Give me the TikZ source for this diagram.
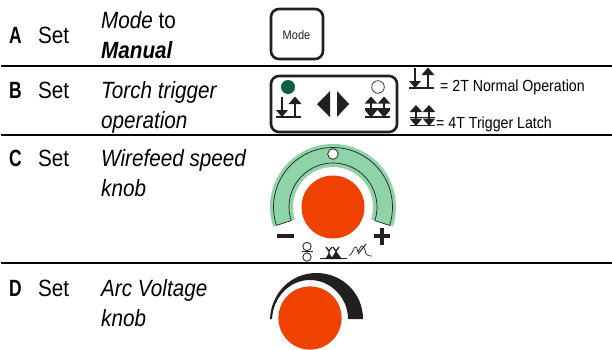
\documentclass[tikz,border=0pt]{standalone}
\usepackage{fontspec}
\setmainfont[FakeStretch=0.88]{Liberation Sans}
\newfontfamily\narrowbold[FakeStretch=0.74,BoldFont={Liberation Sans Bold}]{Liberation Sans}
\definecolor{ink}{HTML}{231F20}
\definecolor{knob}{HTML}{EF4100}
\definecolor{mint}{HTML}{8FD3A8}
\definecolor{led}{HTML}{0B5F3F}
\tikzset{
  x=1pt,y=-1pt,
  lab/.style={anchor=base west,inner sep=0pt,font=\fontsize{23.5}{23.5}\selectfont,text=black},
  letter/.style={lab,font=\fontsize{23.5}{23.5}\selectfont\narrowbold\bfseries},
  small/.style={anchor=base west,inner sep=0pt,font=\fontsize{16.1}{16.1}\selectfont,text=black},
  rule/.style={draw=black,line width=2pt},
  btn/.style={draw=ink,line width=2.6pt,rounded corners=8pt,fill=white},
}
\newcommand{\twoT}[3]{% x,y of baseline left, scale
  \begin{scope}[shift={(#1,#2)},scale=#3]
    \draw[ink,line width=1.2pt] (0,0) -- (25,0);
    \draw[ink,line width=1.7pt] (6,-20) -- (6,-5);
    \fill[ink] (0,-7) -- (12,-7) -- (6,0) -- cycle;
    \draw[ink,line width=1.7pt] (19,-14) -- (19,0);
    \fill[ink] (12.5,-13) -- (25.5,-13) -- (19,-20.5) -- cycle;
  \end{scope}}
\newcommand{\fourT}[3]{%
  \begin{scope}[shift={(#1,#2)},scale=#3]
    \draw[ink,line width=1.2pt] (0,0) -- (25,0);
    \draw[ink,line width=1.2pt] (0,-8) -- (25,-8);
    \foreach \a in {6,19}{
      \draw[ink,line width=1.7pt] (\a,-16) -- (\a,-4);
      \fill[ink] (\a-6.3,-7) -- (\a+6.3,-7) -- (\a,0.5) -- cycle;
      \fill[ink] (\a-6.3,-13.5) -- (\a+6.3,-13.5) -- (\a,-20.5) -- cycle;
    }
  \end{scope}}
\begin{document}
\begin{tikzpicture}
\useasboundingbox (0,0) rectangle (612,349);
\fill[white] (0,0) rectangle (612,349);
% rules
\draw[rule] (1,66) -- (612,66);
\draw[rule] (1,135) -- (612,135);
\draw[rule] (1,262.5) -- (612,262.5);
% left column
\node[letter] (la) at (9,43) {A};
\node[lab] (sa) at (38,43) {Set};
\node[lab] (ta1) at (101,28) {\itshape Mode\/ \upshape to};
\node[lab] (ta2) at (101,58) {\bfseries\itshape Manual};
\node[letter] (lb) at (9,98) {B};
\node[lab] (sb) at (38,98) {Set};
\node[lab] (tb1) at (101,98) {\itshape Torch trigger};
\node[lab] (tb2) at (101,128) {\itshape operation};
\node[letter] (lc) at (9,166) {C};
\node[lab] (sc) at (38,166) {Set};
\node[lab] (tc1) at (101,166) {\itshape Wirefeed speed};
\node[lab] (tc2) at (101,196) {\itshape knob};
\node[letter] (ld) at (9,296) {D};
\node[lab] (sd) at (38,296) {Set};
\node[lab] (td1) at (101,296) {\itshape Arc Voltage};
\node[lab] (td2) at (101,326) {\itshape knob};
% mode button
\draw[btn] (271,9) rectangle (323,59);
\node[inner sep=0pt,text=ink,font=\fontsize{12.5}{12.5}\selectfont] (mode) at (296.5,35) {Mode};
% torch panel
\draw[btn] (271,76) rectangle (397,132);
\fill[led] (288,87) circle (7);
\draw[ink,line width=.7pt,fill=white] (378,87) circle (6.3);
\twoT{276}{117}{1}
\fourT{365}{117}{1}
\fill[ink] (317,104) -- (330,91) -- (330,117) -- cycle;
\fill[ink] (337,91) -- (337,117) -- (349,104) -- cycle;
% legend
\twoT{409}{88}{1}
\fourT{410}{125.5}{1}
\node[small] (l2t) at (440,91) {= 2T Normal Operation};
\node[small] (l4t) at (436,128) {= 4T Trigger Latch};
% green dial
\begin{scope}[shift={(333,207)},x=1pt,y=1pt]
  \fill[mint] (198:63) arc[start angle=198,end angle=-18,radius=63]
    -- (-18:40) arc[start angle=-18,end angle=198,radius=40] -- cycle;
  \draw[ink,line width=.7pt] (198:59.5) arc[start angle=198,end angle=-18,radius=59.5]
    -- (-18:44) arc[start angle=-18,end angle=198,radius=44] -- cycle;
\end{scope}
\draw[ink,line width=.8pt,fill=white] (333,154) circle (5.3);
\fill[knob] (333,207) circle (31.5);
\fill[ink] (277,234) rectangle (294,238);
\fill[ink] (373.5,234) rectangle (390,238);
\fill[ink] (379.7,228) rectangle (383.7,245);
% small icons
\draw[ink,line width=.8pt] (307,246.5) circle (4.2);
\draw[ink,line width=.8pt] (307,257) circle (4.2);
\draw[ink,line width=.8pt] (302,251.8) -- (313,251.8);
\draw[ink,line width=.7pt] (320,258) -- (347,258);
\draw[ink,line width=1.3pt] (326,247) -- (329,251) -- (332,247) (329,251) -- (329,258);
\draw[ink,line width=1.3pt] (333,247) -- (336,251) -- (339,247) (336,251) -- (336,258);
\fill[ink] (325,259) -- (329,253) -- (333,259) -- cycle;
\fill[ink] (331,259) -- (336,251) -- (342,259) -- cycle;
\draw[ink,line width=.7pt] (349,255.5) .. controls (353,255) and (353,246) .. (356,247) .. controls (358,248) and (357,255) .. (359,250) .. controls (361,245) and (363,244) .. (365,250) .. controls (366,255) and (367,256) .. (372,256);
\draw[ink,line width=1pt] (358,254) -- (366,244);
% black dial
\fill[ink] (270,319) .. controls (271,293) and (291,273) .. (316.5,273) .. controls (342,273) and (363,293) .. (363,319) -- (348,319) .. controls (348,298) and (331,280) .. (310,280) .. controls (289,280) and (273,298) .. (272,319) -- cycle;
\fill[knob] (310,318) circle (31.6);
\end{tikzpicture}
\end{document}
